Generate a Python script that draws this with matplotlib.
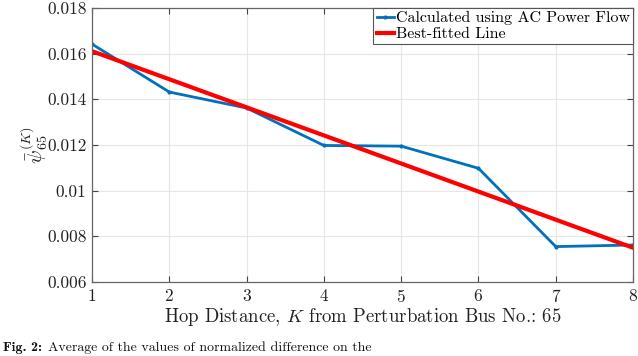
import matplotlib
matplotlib.use("Agg")
import matplotlib.pyplot as plt

plt.rcParams['font.family'] = ['cmr10', 'DejaVu Serif']
plt.rcParams['mathtext.fontset'] = 'cm'
plt.rcParams['axes.formatter.use_mathtext'] = True

hops = [1, 2, 3, 4, 5, 6, 7, 8]
psi_ac = [0.01642, 0.01432, 0.01362, 0.01198, 0.01195, 0.01098, 0.00755, 0.00762]
fit_k = [1, 8]
fit_psi = [0.01611, 0.00750]
yticks = [0.006, 0.008, 0.01, 0.012, 0.014, 0.016, 0.018]
ytick_labels = ['0.006', '0.008', '0.01', '0.012', '0.014', '0.016', '0.018']

fig = plt.figure(figsize=(6.38, 3.56), dpi=100)
ax = fig.add_axes([0.1442, 0.2079, 0.848, 0.7696])

ax.plot(hops, psi_ac, color='#0072BD', lw=2.0, marker='.', ms=4,
        label='Calculated using AC Power Flow')
ax.plot(fit_k, fit_psi, color='#FF0000', lw=3.0, label='Best-fitted Line')

ax.set_xlim(1, 8)
ax.set_ylim(0.006, 0.018)
ax.set_xticks(hops)
ax.set_yticks(yticks)
ax.set_yticklabels(ytick_labels)
ax.grid(True, color='#e6e6e6', lw=0.8)
ax.set_axisbelow(True)
for s in ax.spines.values():
    s.set_color('#666666')
    s.set_linewidth(0.9)
ax.tick_params(direction='in', top=True, right=True, colors='#444444',
               labelcolor='#222222', labelsize=12.5, length=4, pad=4)

ax.set_xlabel(r'Hop Distance, $K$ from Perturbation Bus No.: 65',
              fontsize=13.5, color='#222222', labelpad=1)
ax.set_ylabel(r'$\bar{\psi}_{65}^{(K)}$', fontsize=14.5, color='#222222', labelpad=-2)

leg = ax.legend(loc='upper right', fontsize=11.5, handlelength=1.1,
                handletextpad=0.1, borderpad=0.2, borderaxespad=0.0,
                labelspacing=0.1, fancybox=False, framealpha=1)
leg.get_frame().set_edgecolor('#555555')
leg.get_frame().set_linewidth(0.8)

fig.text(0.005, 0.006, 'Fig. 2:', family='cmb10', fontsize=10,
         va='bottom', ha='left', color='#111111')
fig.text(0.075, 0.006, 'Average of the values of normalized difference on the',
         fontsize=10, va='bottom', ha='left', color='#111111')

fig.savefig('out.png', dpi=100)
